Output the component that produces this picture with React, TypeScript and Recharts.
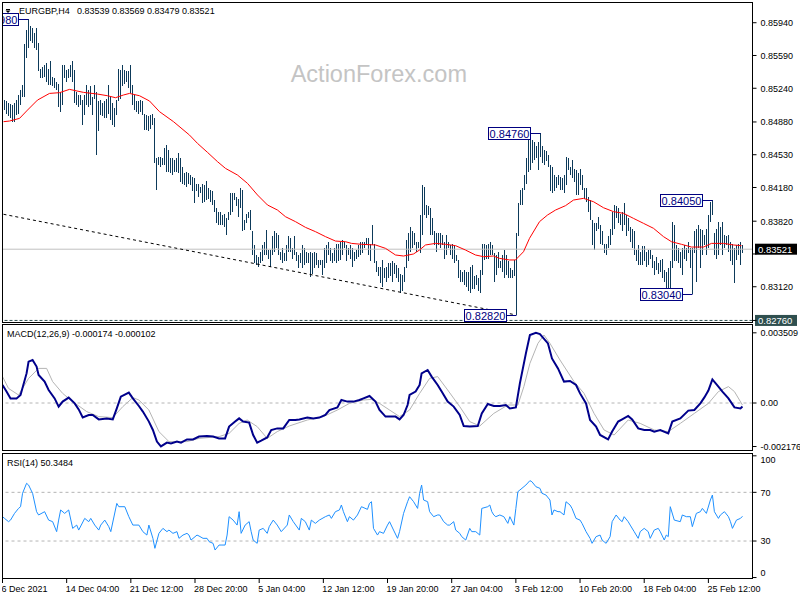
import React from 'react';
import { ComposedChart, Bar, Line, XAxis, YAxis, ReferenceLine, ReferenceDot } from 'recharts';

const FONT = "'Liberation Sans', Arial, Helvetica, sans-serif";

// ---- price bars (H4), index 0 = 6 Dec 2021 20:00 ----
const highs = [
  0.8511,0.8510,0.8508,0.8507,0.8506,0.8508,0.8511,0.8517,0.8522,0.8527,
  0.8571,0.8586,0.8598,0.8590,0.8588,0.8583,0.8588,0.8572,0.8545,0.8547,
  0.8549,0.8551,0.8545,0.8553,0.8536,0.8535,0.8531,0.8529,0.8520,0.8549,
  0.8549,0.8544,0.8545,0.8549,0.8553,0.8544,0.8520,0.8517,0.8517,0.8511,
  0.8517,0.8527,0.8522,0.8526,0.8515,0.8527,0.8520,0.8510,0.8511,0.8508,
  0.8510,0.8513,0.8527,0.8515,0.8508,0.8503,0.8511,0.8545,0.8544,0.8549,
  0.8544,0.8542,0.8542,0.8549,0.8527,0.8517,0.8510,0.8510,0.8511,0.8510,
  0.8497,0.8495,0.8494,0.8495,0.8497,0.8492,0.8449,0.8451,0.8451,0.8449,
  0.8460,0.8463,0.8458,0.8449,0.8449,0.8447,0.8449,0.8455,0.8449,0.8440,
  0.8433,0.8435,0.8433,0.8431,0.8429,0.8428,0.8422,0.8422,0.8419,0.8422,
  0.8421,0.8425,0.8417,0.8415,0.8414,0.8405,0.8396,0.8392,0.8392,0.8389,
  0.8390,0.8385,0.8392,0.8412,0.8412,0.8412,0.8408,0.8406,0.8417,0.8415,
  0.8383,0.8390,0.8392,0.8394,0.8372,0.8357,0.8346,0.8344,0.8349,0.8357,
  0.8360,0.8373,0.8351,0.8351,0.8366,0.8371,0.8369,0.8367,0.8349,0.8353,
  0.8348,0.8357,0.8366,0.8364,0.8353,0.8366,0.8349,0.8346,0.8348,0.8357,
  0.8353,0.8349,0.8348,0.8349,0.8348,0.8349,0.8348,0.8341,0.8341,0.8341,
  0.8353,0.8357,0.8360,0.8353,0.8348,0.8353,0.8358,0.8358,0.8360,0.8362,
  0.8360,0.8357,0.8353,0.8357,0.8353,0.8349,0.8351,0.8357,0.8360,0.8360,
  0.8360,0.8364,0.8364,0.8358,0.8378,0.8358,0.8339,0.8333,0.8333,0.8341,
  0.8332,0.8333,0.8337,0.8337,0.8339,0.8337,0.8335,0.8332,0.8326,0.8325,
  0.8333,0.8362,0.8369,0.8376,0.8371,0.8369,0.8360,0.8360,0.8389,0.8421,
  0.8419,0.8399,0.8398,0.8396,0.8385,0.8371,0.8369,0.8369,0.8369,0.8367,
  0.8360,0.8367,0.8360,0.8357,0.8358,0.8357,0.8346,0.8341,0.8330,0.8328,
  0.8330,0.8328,0.8328,0.8333,0.8335,0.8323,0.8325,0.8321,0.8330,0.8358,
  0.8358,0.8357,0.8358,0.8360,0.8357,0.8348,0.8346,0.8349,0.8339,0.8346,
  0.8351,0.8346,0.8339,0.8332,0.8330,0.8341,0.8369,0.8401,0.8415,0.8417,
  0.8431,0.8449,0.8469,0.8469,0.8469,0.8467,0.8462,0.8467,0.8476,0.8462,
  0.8458,0.8457,0.8453,0.8442,0.8440,0.8431,0.8429,0.8431,0.8429,0.8428,
  0.8431,0.8451,0.8449,0.8440,0.8447,0.8438,0.8437,0.8433,0.8438,0.8431,
  0.8417,0.8417,0.8408,0.8405,0.8383,0.8380,0.8380,0.8387,0.8378,0.8371,
  0.8358,0.8358,0.8366,0.8374,0.8392,0.8399,0.8398,0.8396,0.8390,0.8392,
  0.8401,0.8389,0.8385,0.8376,0.8374,0.8371,0.8351,0.8357,0.8349,0.8355,
  0.8355,0.8349,0.8351,0.8351,0.8346,0.8339,0.8344,0.8337,0.8341,0.8342,
  0.8330,0.8328,0.8332,0.8339,0.8381,0.8378,0.8357,0.8353,0.8349,0.8353,
  0.8357,0.8353,0.8360,0.8353,0.8353,0.8371,0.8374,0.8378,0.8374,0.8373,
  0.8367,0.8374,0.8389,0.8403,0.8405,0.8369,0.8374,0.8381,0.8376,0.8381,
  0.8367,0.8366,0.8367,0.8360,0.8358,0.8353,0.8357,0.8358,0.8360,0.83569,
];
const lows = [
  0.8501,0.8497,0.8494,0.8492,0.8488,0.8488,0.8495,0.8497,0.8506,0.8515,
  0.8515,0.8556,0.8567,0.8574,0.8572,0.8567,0.8565,0.8542,0.8535,0.8535,
  0.8536,0.8531,0.8527,0.8527,0.8526,0.8524,0.8522,0.8504,0.8499,0.8506,
  0.8535,0.8531,0.8535,0.8536,0.8531,0.8508,0.8506,0.8504,0.8506,0.8485,
  0.8495,0.8506,0.8504,0.8506,0.8495,0.8513,0.8453,0.8478,0.8495,0.8494,
  0.8492,0.8492,0.8497,0.8490,0.8485,0.8483,0.8495,0.8510,0.8513,0.8526,
  0.8529,0.8531,0.8524,0.8519,0.8506,0.8501,0.8499,0.8497,0.8499,0.8495,
  0.8479,0.8479,0.8478,0.8481,0.8485,0.8444,0.8415,0.8442,0.8440,0.8442,
  0.8442,0.8435,0.8435,0.8433,0.8431,0.8435,0.8435,0.8433,0.8424,0.8422,
  0.8421,0.8419,0.8422,0.8421,0.8414,0.8401,0.8414,0.8408,0.8412,0.8401,
  0.8403,0.8405,0.8406,0.8403,0.8399,0.8392,0.8380,0.8378,0.8378,0.8378,
  0.8376,0.8367,0.8383,0.8389,0.8392,0.8405,0.8398,0.8387,0.8396,0.8371,
  0.8373,0.8380,0.8385,0.8373,0.8346,0.8337,0.8335,0.8333,0.8337,0.8339,
  0.8346,0.8346,0.8342,0.8333,0.8346,0.8349,0.8353,0.8346,0.8341,0.8337,
  0.8339,0.8339,0.8349,0.8349,0.8342,0.8346,0.8339,0.8332,0.8337,0.8332,
  0.8335,0.8337,0.8337,0.8322,0.8326,0.8332,0.8335,0.8332,0.8335,0.8325,
  0.8332,0.8337,0.8346,0.8339,0.8337,0.8339,0.8337,0.8339,0.8341,0.8346,
  0.8353,0.8339,0.8346,0.8342,0.8333,0.8339,0.8342,0.8344,0.8346,0.8348,
  0.8353,0.8357,0.8346,0.8339,0.8357,0.8337,0.8328,0.8323,0.8316,0.8312,
  0.8321,0.8317,0.8321,0.8323,0.8317,0.8326,0.8321,0.8317,0.8305,0.8307,
  0.8317,0.8332,0.8339,0.8349,0.8353,0.8357,0.8349,0.8353,0.8348,0.8367,
  0.8389,0.8385,0.8389,0.8367,0.8367,0.8357,0.8349,0.8357,0.8353,0.8357,
  0.8342,0.8346,0.8353,0.8346,0.8342,0.8337,0.8339,0.8321,0.8317,0.8317,
  0.8314,0.8312,0.8307,0.8305,0.8310,0.8310,0.8314,0.8307,0.8305,0.8325,
  0.8341,0.8342,0.8342,0.8346,0.8346,0.8317,0.8325,0.8332,0.8332,0.8328,
  0.8321,0.8325,0.8321,0.8321,0.8321,0.8323,0.8282,0.8366,0.8399,0.8399,
  0.8415,0.8422,0.8435,0.8437,0.8444,0.8447,0.8449,0.8437,0.8451,0.8444,
  0.8442,0.8446,0.8440,0.8414,0.8412,0.8414,0.8417,0.8421,0.8415,0.8415,
  0.8412,0.8421,0.8437,0.8431,0.8428,0.8424,0.8410,0.8410,0.8421,0.8415,
  0.8406,0.8403,0.8392,0.8383,0.8357,0.8351,0.8371,0.8374,0.8358,0.8357,
  0.8348,0.8346,0.8353,0.8357,0.8367,0.8374,0.8385,0.8380,0.8378,0.8371,
  0.8378,0.8366,0.8371,0.8360,0.8353,0.8346,0.8339,0.8335,0.8335,0.8335,
  0.8339,0.8333,0.8335,0.8342,0.8332,0.8325,0.8330,0.8326,0.8328,0.8321,
  0.8317,0.8311,0.8311,0.8310,0.8332,0.8339,0.8339,0.8337,0.8332,0.8325,
  0.8342,0.8339,0.8348,0.8332,0.8304,0.8348,0.8317,0.8353,0.8332,0.8346,
  0.8357,0.8346,0.8353,0.8381,0.8389,0.8346,0.8342,0.8346,0.8357,0.8346,
  0.8353,0.8357,0.8349,0.8339,0.8335,0.8316,0.8341,0.8346,0.8335,0.83479,
];

// ---- red moving average (sampled) ----
const maIdx = [0,3,8,12,17,23,28,33,40,47,52,56,60,63,68,73,78,85,93,97,102,107,111,117,122,127,132,137,141,146,151,156,161,166,171,174,179,186,191,196,200,205,208,211,216,221,226,231,236,240,245,248,253,256,260,263,268,272,276,281,285,290,295,300,305,310,315,320,325,330,334,339,344,350,354,360,365,369];
const maVal = [0.84883,0.84890,0.84918,0.85007,0.85114,0.85185,0.85193,0.85228,0.85196,0.85178,0.85160,0.85139,0.85168,0.85185,0.85160,0.85104,0.84990,0.84883,0.84740,0.84651,0.84555,0.84456,0.84384,0.84313,0.84224,0.84100,0.83993,0.83939,0.83868,0.83815,0.83754,0.83708,0.83655,0.83608,0.83601,0.83583,0.83573,0.83566,0.83530,0.83459,0.83448,0.83470,0.83512,0.83566,0.83583,0.83573,0.83559,0.83512,0.83459,0.83441,0.83448,0.83423,0.83406,0.83406,0.83494,0.83637,0.83815,0.83886,0.83939,0.83986,0.84046,0.84064,0.84028,0.83964,0.83922,0.83904,0.83850,0.83797,0.83744,0.83655,0.83601,0.83573,0.83544,0.83544,0.83583,0.83583,0.83566,0.83559];

// ---- MACD(12,26,9) ----
const macdIdx = [0,2,4,7,9,12,13,15,17,18,21,23,26,28,30,33,36,38,40,43,45,48,52,55,57,59,63,65,68,70,73,75,77,79,82,84,87,89,92,95,98,102,105,108,111,113,116,118,120,123,125,127,129,132,134,137,140,143,146,148,152,155,158,161,163,167,169,172,175,178,180,183,186,188,191,193,196,198,200,202,203,206,208,209,212,214,217,219,222,225,228,230,233,237,239,242,245,248,251,253,256,258,261,263,266,268,272,274,277,280,283,286,288,291,293,296,298,302,304,307,309,312,314,317,320,323,325,328,332,334,338,342,345,348,350,352,354,357,359,362,365,368,369];
const macdVal = [
  0.00090,0.00057,0.00023,0.00023,0.00040,0.00148,0.00207,0.00215,0.00182,0.00140,
  0.00107,0.00065,0.00023,-0.00018,0.00007,0.00027,-0.00002,-0.00032,-0.00072,-0.00060,
  -0.00060,-0.00082,-0.00077,-0.00082,-0.00027,0.00032,0.00052,0.00023,-0.00015,-0.00043,
  -0.00093,-0.00135,-0.00193,-0.00217,-0.00198,-0.00202,-0.00193,-0.00198,-0.00182,-0.00182,
  -0.00168,-0.00165,-0.00168,-0.00177,-0.00177,-0.00118,-0.00093,-0.00077,-0.00093,-0.00098,
  -0.00160,-0.00198,-0.00188,-0.00172,-0.00135,-0.00127,-0.00127,-0.00085,-0.00085,-0.00082,
  -0.00073,-0.00077,-0.00073,-0.00060,-0.00035,-0.00022,0.00015,0.00007,0.00007,0.00015,
  0.00023,0.00035,0.00007,-0.00035,-0.00068,-0.00068,-0.00068,-0.00082,-0.00060,-0.00010,
  0.00040,0.00057,0.00090,0.00148,0.00165,0.00132,0.00090,0.00057,0.00007,-0.00018,
  -0.00060,-0.00115,-0.00118,-0.00115,-0.00052,-0.00005,-0.00015,-0.00015,-0.00010,-0.00027,
  -0.00022,0.00098,0.00248,0.00340,0.00351,0.00345,0.00298,0.00223,0.00173,0.00107,
  0.00110,0.00090,0.00048,-0.00002,-0.00085,-0.00118,-0.00160,-0.00182,-0.00143,-0.00093,
  -0.00082,-0.00065,-0.00082,-0.00127,-0.00135,-0.00135,-0.00143,-0.00135,-0.00152,-0.00093,
  -0.00077,-0.00038,-0.00035,-0.00002,0.00028,0.00062,0.00118,0.00082,0.00057,0.00023,
  -0.00022,-0.00027,-0.000174,
];
const sigIdx = [0,3,8,13,18,22,25,30,35,42,48,55,60,65,68,73,78,83,92,98,108,113,118,122,127,132,137,143,152,160,167,173,180,184,188,193,198,203,208,213,217,222,228,233,238,245,252,257,260,263,267,270,273,278,285,290,295,300,305,312,318,325,332,338,345,352,357,362,365,369];
const sigVal = [
  0.00132,0.00073,0.00040,0.00123,0.00173,0.00173,0.00107,0.00048,0.00007,-0.00043,
  -0.00068,-0.00073,-0.00018,0.00027,0.00015,-0.00035,-0.00143,-0.00193,-0.00193,-0.00177,
  -0.00168,-0.00152,-0.00102,-0.00085,-0.00118,-0.00177,-0.00143,-0.00115,-0.00085,-0.00068,
  -0.00035,-0.00002,0.00015,0.00018,-0.00002,-0.00035,-0.00068,-0.00035,0.00048,0.00123,
  0.00132,0.00065,-0.00018,-0.00093,-0.00115,-0.00052,-0.00010,-0.00010,0.00082,0.00198,
  0.00298,0.00340,0.00298,0.00215,0.00107,0.00048,-0.00052,-0.00135,-0.00160,-0.00085,
  -0.00102,-0.00135,-0.00143,-0.00102,-0.00052,-0.00002,0.00057,0.00082,0.00057,-0.000102,
];

// ---- RSI(14) ----
const rsiIdx = [0,1,3,4,6,8,9,10,12,13,15,17,18,21,23,25,27,28,29,31,33,35,37,38,41,43,44,46,48,49,51,53,54,57,58,61,63,65,68,70,72,73,75,76,78,80,82,83,85,87,88,90,92,93,94,97,98,100,102,103,105,106,108,109,111,112,113,115,117,118,119,121,123,124,125,127,128,130,132,133,135,137,139,142,143,145,148,149,151,153,154,156,158,161,163,164,166,168,169,170,172,173,175,177,179,182,183,184,185,187,188,190,192,193,195,197,198,200,202,203,205,207,208,209,210,212,213,215,217,218,220,222,223,225,226,228,229,231,233,234,236,238,239,242,243,244,245,246,248,250,252,253,255,256,257,258,261,263,264,266,268,269,271,273,274,275,277,278,280,281,283,284,286,288,289,291,293,294,296,298,299,301,303,304,306,308,309,310,312,313,315,317,318,320,322,323,325,327,328,330,331,332,333,335,338,339,341,343,344,346,348,349,351,353,354,355,357,358,360,362,363,364,366,368,369];
const rsiVal = [
  50.0,48.6,45.9,47.2,52.7,56.8,58.2,69.2,77.4,76.0,
  69.2,54.1,51.4,54.1,47.2,45.9,37.7,47.2,55.5,52.7,
  55.5,40.4,43.1,39.0,48.6,45.9,48.6,43.1,39.0,43.1,
  47.2,41.8,37.7,60.9,58.2,58.2,50.0,43.1,43.1,37.7,
  34.9,43.1,32.2,24.0,36.3,40.4,37.7,39.0,36.3,37.7,
  32.2,34.9,36.3,34.9,30.8,34.9,34.1,32.2,32.2,29.5,
  28.1,22.6,26.7,26.7,26.7,34.9,50.0,47.2,43.1,54.1,
  36.3,43.1,45.9,37.7,30.8,28.1,39.0,40.4,36.3,41.8,
  47.2,43.1,37.7,43.1,51.4,45.9,39.0,48.6,45.9,39.0,
  47.2,44.5,47.2,50.0,51.4,48.6,54.1,55.5,59.6,54.1,
  45.9,50.0,47.2,51.4,58.2,56.0,60.9,62.3,40.4,34.9,
  37.7,36.3,43.1,45.9,39.0,32.2,37.7,52.7,62.3,66.4,
  62.3,56.8,69.2,76.0,63.7,62.3,54.1,50.0,51.4,51.4,
  45.9,43.1,43.1,45.9,39.0,36.3,33.6,30.8,40.4,37.7,
  37.7,34.9,56.8,58.2,59.6,54.1,51.4,50.0,51.4,50.0,
  44.5,50.0,43.1,56.8,70.5,71.9,76.0,79.6,78.7,74.6,
  73.3,69.2,67.8,63.7,51.4,55.5,54.1,54.1,51.4,62.3,
  59.6,56.8,48.6,47.2,44.5,37.7,32.2,28.1,33.6,34.9,
  30.8,28.1,33.6,45.9,51.4,47.2,45.9,50.0,45.9,43.1,
  37.7,32.2,37.7,40.4,37.7,32.2,39.0,40.4,37.7,30.8,
  34.9,33.6,58.2,47.2,45.9,51.4,50.0,50.0,41.8,52.7,
  54.1,56.8,52.7,63.7,67.8,54.1,48.6,51.4,54.1,50.0,
  45.9,40.4,47.2,48.6,50.35,
];

// ---- axes, labels, levels ----
const timeIdx = [0,32,64,96,128,160,192,224,256,288,320,352];
const timeLbl = ['6 Dec 2021','14 Dec 04:00','21 Dec 12:00','28 Dec 20:00','5 Jan 04:00','12 Jan 12:00','19 Jan 20:00','27 Jan 04:00','3 Feb 12:00','10 Feb 20:00','18 Feb 04:00','25 Feb 12:00'];
const priceTicks = [0.8594,0.8559,0.8524,0.8488,0.8453,0.8418,0.8382,0.8347,0.8312,0.8276];
const hiddenPriceTicks = [0.8347,0.8276];
const macdTicks = [0.003509,0,-0.002176];
const rsiTicks = [100,70,30,0];
const rsiLevels = [70,30];
const hiloIdx = [12,268,256,354,344];
const hiloVal = [0.8598,0.8476,0.8282,0.8405,0.8304];
const hiloTxt = ['0.85980','0.84760','0.82820','0.84050','0.83040'];
const trendIdx = [0,256];
const trendVal = [0.83894,0.8282];
const bidPrice = 0.83521;
const levelPrice = 0.8276;
const titleSymbol = 'EURGBP,H4';
const titleOhlc = '0.83539 0.83569 0.83479 0.83521';
const macdTitle = 'MACD(12,26,9) -0.000174 -0.000102';
const rsiTitle = 'RSI(14) 50.3484';

const SLOTS = 375;
type Row = { i: number; hl: number[] | null; ma: number | null; macd: number | null; sig: number | null; rsi: number | null };
const rows: Row[] = Array.from({ length: SLOTS }, (_, i) => ({
  i,
  hl: i < highs.length ? [lows[i], highs[i]] : null,
  ma: null, macd: null, sig: null, rsi: null,
}));
maIdx.forEach((k, j) => { rows[k].ma = maVal[j]; });
macdIdx.forEach((k, j) => { rows[k].macd = macdVal[j]; });
sigIdx.forEach((k, j) => { rows[k].sig = sigVal[j]; });
rsiIdx.forEach((k, j) => { rows[k].rsi = rsiVal[j]; });

const CW = 798;
const BAR = '#0d3a5a';

const PriceTick = (props: any) => {
  const { x, y, payload } = props;
  const v = payload.value as number;
  if (hiddenPriceTicks.some((h) => Math.abs(h - v) < 1e-7)) return <g />;
  return <text x={x} y={y} dy={3.3} fontSize={9} fontFamily={FONT} fill="#000" textAnchor="start">{v.toFixed(5)}</text>;
};
const MacdTick = (props: any) => {
  const { x, y, payload } = props;
  const v = payload.value as number;
  return <text x={x} y={y} dy={3.3} fontSize={9} fontFamily={FONT} fill="#000" textAnchor="start">{v === 0 ? '0.00' : v.toFixed(6)}</text>;
};
const RsiTick = (props: any) => {
  const { x, y, payload } = props;
  const v = payload.value as number;
  const shift = v === 100 ? 4 : v === 0 ? -5 : 0;
  return <text x={x} y={y + shift} dy={3.3} fontSize={9} fontFamily={FONT} fill="#000" textAnchor="start">{v}</text>;
};
const TimeTick = (props: any) => {
  const { x, y, payload } = props;
  const k = timeIdx.indexOf(payload.value);
  if (k < 0) return <g />;
  return <text x={x - 1} y={y} dy={6.6} fontSize={9} fontFamily={FONT} fill="#000" textAnchor="start">{timeLbl[k]}</text>;
};

const HLBar = (props: any) => {
  const { x, y, width, height } = props;
  if (x == null || y == null || !isFinite(x) || !isFinite(y)) return <g />;
  const cx = Math.round(x + width / 2 - 0.5);
  return <rect x={cx} y={y} width={1} height={Math.max(height, 1)} fill={BAR} shapeRendering="crispEdges" />;
};

const rightBox = (text: string, bg: string) => (props: any) => {
  const vb = props.viewBox || { x: 0, y: 0, width: 0 };
  const x = vb.x + vb.width + 2.5;
  const y = vb.y;
  return (
    <g>
      <rect x={x} y={y - 5.5} width={42} height={11} fill={bg} />
      <text x={x + 3} y={y + 3.5} fontSize={9.5} fontFamily={FONT} fill="#fff">{text}</text>
    </g>
  );
};

const hiloShape = (text: string) => (props: any) => {
  const { cx, cy } = props;
  const right = Math.round(cx - 10) + 0.5;
  const yy = Math.round(cy) + 0.5;
  const w = 42;
  const h = 12;
  return (
    <g>
      <line x1={right} y1={yy} x2={Math.round(cx) + 0.5} y2={yy} stroke="#000080" strokeWidth={1} />
      <rect x={right - w} y={yy - h / 2} width={w} height={h} fill="#fff" stroke="#000080" strokeWidth={1} />
      <text x={right - w / 2} y={yy + 4} textAnchor="middle" fontSize={11} fontFamily={FONT} fill="#000080">{text}</text>
    </g>
  );
};

export default function App() {
  return (
    <div style={{ position: 'absolute', left: 0, top: 0, width: 800, height: 600, background: '#fff', overflow: 'hidden' }}>
      <svg width={800} height={600} style={{ position: 'absolute', left: 0, top: 0 }}>
        <text x={290.7} y={82} fontSize={23.5} fontFamily={FONT} fill="#c4c4c4">ActionForex.com</text>
      </svg>

      <div style={{ position: 'absolute', left: 2, top: 0, width: CW, height: 330, overflow: 'hidden' }}>
        <ComposedChart width={CW} height={330} data={rows} margin={{ top: 2.5, right: 0.5, bottom: 7.5, left: 0.5 }}>
          <XAxis dataKey="i" type="category" hide />
          <YAxis orientation="right" type="number" domain={[0.82738, 0.86156]} allowDataOverflow ticks={priceTicks} interval={0}
            width={47} tickSize={4} tickMargin={4} axisLine={false} tickLine={{ stroke: '#000' }} tick={<PriceTick />} />
          <ReferenceLine y={bidPrice} stroke="#c0c0c0" strokeWidth={1} label={rightBox('0.83521', '#000000')} />
          <ReferenceLine y={levelPrice} stroke="#2f4f4f" strokeWidth={1} strokeDasharray="3 2" label={rightBox('0.82760', '#2f4f4f')} />
          <ReferenceLine segment={[{ x: trendIdx[0], y: trendVal[0] }, { x: trendIdx[1], y: trendVal[1] }]} stroke="#000" strokeWidth={1} strokeDasharray="3 3" />
          <Bar dataKey="hl" fill={BAR} barSize={1} shape={<HLBar />} isAnimationActive={false} />
          <Line dataKey="ma" stroke="#ff0000" strokeWidth={1} dot={false} connectNulls isAnimationActive={false} />
          {hiloIdx.map((k, j) => (
            <ReferenceDot key={k} x={k} y={hiloVal[j]} r={0} shape={hiloShape(hiloTxt[j])} />
          ))}
        </ComposedChart>
      </div>

      <div style={{ position: 'absolute', left: 2, top: 324, width: CW, height: 127, overflow: 'hidden' }}>
        <ComposedChart width={CW} height={127} data={rows} margin={{ top: 0.5, right: 0.5, bottom: 0.5, left: 0.5 }}>
          <XAxis dataKey="i" type="category" hide />
          <YAxis orientation="right" type="number" domain={[-0.002375, 0.003925]} allowDataOverflow ticks={macdTicks} interval={0}
            width={47} tickSize={4} tickMargin={4} axisLine={false} tickLine={{ stroke: '#000' }} tick={<MacdTick />} />
          <ReferenceLine y={0} stroke="#b4b4b4" strokeDasharray="3 3" />
          <Line dataKey="sig" stroke="#b4b4b4" strokeWidth={1} dot={false} connectNulls isAnimationActive={false} />
          <Line dataKey="macd" stroke="#00008b" strokeWidth={2} dot={false} connectNulls isAnimationActive={false} />
        </ComposedChart>
      </div>

      <div style={{ position: 'absolute', left: 2, top: 453, width: CW, height: 147, overflow: 'hidden' }}>
        <ComposedChart width={CW} height={147} data={rows} margin={{ top: 0.5, right: 0.5, bottom: 0, left: 0.5 }}>
          <XAxis dataKey="i" type="category" height={21} interval={31} tickSize={4} tickMargin={2} axisLine={false}
            tickLine={{ stroke: '#000' }} tick={<TimeTick />} />
          <YAxis orientation="right" type="number" domain={[-1.2, 101.9]} allowDataOverflow ticks={rsiTicks} interval={0}
            width={47} tickSize={4} tickMargin={4} axisLine={false} tickLine={{ stroke: '#000' }} tick={<RsiTick />} />
          {rsiLevels.map((v) => (
            <ReferenceLine key={v} y={v} stroke="#b4b4b4" strokeDasharray="3 3" />
          ))}
          <Line dataKey="rsi" stroke="#1e90ff" strokeWidth={1} dot={false} connectNulls isAnimationActive={false} />
        </ComposedChart>
      </div>

      <svg width={800} height={600} style={{ position: 'absolute', left: 0, top: 0, pointerEvents: 'none' }}>
        <rect x={2.5} y={2.5} width={750} height={320} fill="none" stroke="#000" strokeWidth={1} />
        <rect x={2.5} y={324.5} width={750} height={126} fill="none" stroke="#000" strokeWidth={1} />
        <rect x={2.5} y={453.5} width={750} height={125} fill="none" stroke="#000" strokeWidth={1} />
        <line x1={6} y1={9.5} x2={10} y2={9.5} stroke="#000" strokeWidth={1} />
        <polygon points="5.5,10.5 10.5,10.5 8,13" fill="#000" />
        <text x={19} y={14} fontSize={9} fontFamily={FONT} fill="#000">{titleSymbol}</text>
        <text x={77} y={14} fontSize={9} fontFamily={FONT} fill="#000">{titleOhlc}</text>
        <text x={7} y={337} fontSize={9} fontFamily={FONT} fill="#000">{macdTitle}</text>
        <text x={7} y={466} fontSize={9} fontFamily={FONT} fill="#000">{rsiTitle}</text>
      </svg>
    </div>
  );
}
